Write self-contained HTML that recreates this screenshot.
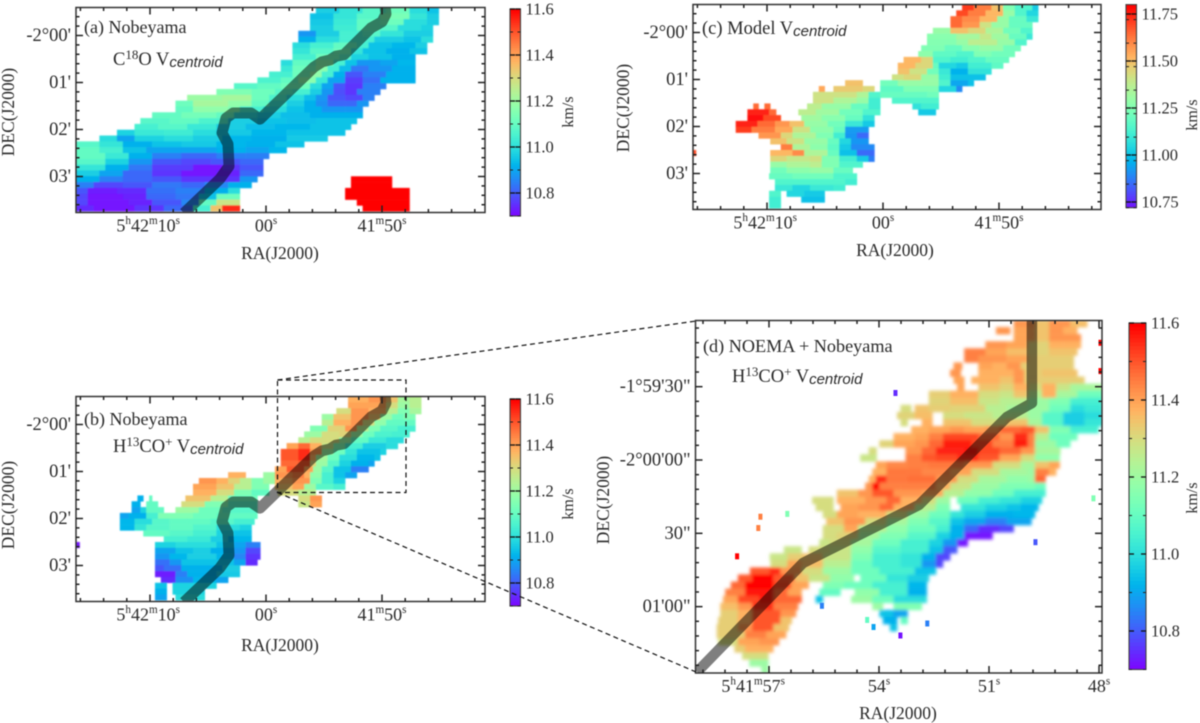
<!DOCTYPE html>
<html><head><meta charset="utf-8"><title>Velocity centroid maps</title>
<style>
html,body{margin:0;padding:0;background:#fff;width:1200px;height:723px;overflow:hidden}
svg{display:block;filter:blur(0.4px)}
text{font-family:"Liberation Serif",serif;fill:#2a2a2a}
.sans{font-family:"Liberation Sans",sans-serif;font-style:italic}
</style></head>
<body>
<svg id="fig" xmlns="http://www.w3.org/2000/svg" width="1200" height="723" viewBox="0 0 1200 723">
<defs>
<filter id="blurS" x="-5%" y="-5%" width="110%" height="110%"><feGaussianBlur stdDeviation="0.6"/></filter>
<filter id="blurL" x="-5%" y="-5%" width="110%" height="110%"><feGaussianBlur stdDeviation="1.6"/></filter>
</defs>
<g id="maps"></g>
<g fill="none" stroke="#111" stroke-width="1.2" stroke-dasharray="5 3.5">
<rect x="277.5" y="380" width="128.5" height="112.5"/>
<line x1="277.5" y1="380" x2="696" y2="321"/>
<line x1="277.5" y1="492.5" x2="696" y2="672"/>
</g>
<text x="84" y="33" font-size="18">(a) Nobeyama</text>
<text x="113" y="65" font-size="18.5">C<tspan font-size="13" dy="-6">18</tspan><tspan dy="6">O V</tspan><tspan class="sans" font-size="15" dy="2">centroid</tspan></text>
<text x="84" y="425" font-size="18">(b) Nobeyama</text>
<text x="113" y="452" font-size="18.5">H<tspan font-size="13" dy="-6">13</tspan><tspan dy="6">CO</tspan><tspan font-size="13" dy="-6">+</tspan><tspan dy="6"> V</tspan><tspan class="sans" font-size="15" dy="2">centroid</tspan></text>
<text x="702" y="34" font-size="18.5">(c) Model V<tspan class="sans" font-size="15" dy="2">centroid</tspan></text>
<text x="703" y="352" font-size="18.2">(d) NOEMA + Nobeyama</text>
<text x="732" y="382" font-size="18.5">H<tspan font-size="13" dy="-6">13</tspan><tspan dy="6">CO</tspan><tspan font-size="13" dy="-6">+</tspan><tspan dy="6"> V</tspan><tspan class="sans" font-size="15" dy="2">centroid</tspan></text>
</svg>
<script>
// ---------- Shared axis data ----------
const smallRaMajor = [10, 0, -10];
const smallRaLabels = [["5","h","42","m","10","s"], ["00","s"], ["41","m","50","s"]];
const smallDecMajor = [0, 1, 2, 3];
const smallDecLabels = ["-2°00'", "01'", "02'", "03'"];
const dRaMajor = [57, 54, 51, 48];
const dRaLabels = [["5","h","41","m","57","s"], ["54","s"], ["51","s"], ["48","s"]];
const dDecMajor = [-30, 0, 30, 60];
const dDecLabels = ["-1°59'30\"", "-2°00'00\"", "30\"", "01'00\""];
const cbarTicksABD = [11.6, 11.4, 11.2, 11.0, 10.8];
const cbarTicksC = [11.75, 11.5, 11.25, 11.0, 10.75];

// ---------- Filament spine (RA seconds from 5h42m00s, DEC arcmin below -2 deg) ----------
const spineRa = [7.07, 3.97, 3.19, 3.28, 3.79, 3.45, 2.84, 1.29, 0.52, -4.14, -4.83, -5.52, -6.03, -6.72, -9.05, -10.0, -10.34, -10.26];
const spineDec = [3.78, 3.05, 2.78, 2.31, 2.07, 1.76, 1.65, 1.65, 1.78, 0.67, 0.56, 0.52, 0.44, 0.41, -0.16, -0.29, -0.46, -0.63];
// Panel d spine (RA seconds of 5h41m, DEC arcsec below -2 deg)
const spineDRa = [58.96, 56.07, 52.91, 50.51, 49.83, 49.83];
const spineDDec = [86.7, 42.1, 18.4, -17.6, -23.3, -57.3];

// ---------- Map values: each row = col, km/s, col, km/s, ..., endCol (null = blank) ----------
const panelARows = [
[41,10.97,45,11.02,49,11.08,53,11.12,57,11.0,60,10.95,62],
[40,10.95,44,11.02,48,11.08,52,11.14,57,11.02,60,10.97,62],
[40,10.96,44,11.03,48,11.1,52,11.12,56,11.0,60,10.97,62],
[40,10.97,44,11.04,48,11.1,52,11.08,55,11.0,59,10.98,61],
[38,10.88,41,10.97,45,11.05,49,11.08,52,11.02,56,10.97,61],
[38,10.92,41,11.0,45,11.05,49,11.05,51,10.97,56,10.95,59,11.0,61],
[37,11.0,40,11.05,44,11.1,48,11.05,50,10.95,54,10.93,58,10.97,60],
[37,11.02,40,11.08,44,11.12,47,11.02,49,10.95,53,10.92,57,10.95,60],
[37,11.05,41,11.12,45,11.08,47,10.98,50,10.95,54,10.92,58],
[35,11.0,37,11.1,41,11.16,44,11.05,46,10.95,48,10.88,52,10.9,55,10.93,58],
[35,11.03,37,11.12,41,11.17,43,11.05,45,10.94,47,10.84,50,10.88,54,10.92,58],
[33,11.05,37,11.12,40,11.18,42,11.05,44,10.92,46,10.8,49,10.85,53,10.92,58],
[31,11.06,35,11.1,38,11.17,41,11.03,43,10.9,46,10.77,49,10.83,52,10.92,58],
[27,11.08,31,11.1,35,11.12,38,11.12,40,11.0,42,10.9,44,10.8,46,10.76,49,10.85,53],
[24,11.15,30,11.12,34,11.08,37,11.05,40,10.97,42,10.88,44,10.79,46,10.76,48,10.85,52],
[19,11.2,25,11.22,30,11.12,33,11.06,36,11.0,39,10.94,41,10.88,43,10.8,46,10.78,49,10.85,51],
[17,11.12,20,11.22,26,11.18,30,11.1,33,11.03,36,10.97,39,10.92,41,10.87,43,10.82,46,10.82,48,10.88,50],
[17,11.1,20,11.18,26,11.15,28,11.05,32,11.0,36,10.95,39,10.92,42,10.88,46,10.88,49],
[13,11.1,18,11.13,24,11.1,27,11.0,31,10.97,35,10.94,40,10.92,44,10.92,49],
[11,11.08,16,11.1,21,11.06,26,10.97,31,10.95,36,10.94,41,10.95,48],
[10,11.05,14,11.08,19,11.03,24,10.97,29,10.94,34,10.93,40,10.95,47],
[7,10.98,10,11.03,15,11.04,20,11.0,24,10.96,30,10.93,36,10.95,46],
[4,11.0,7,10.9,10,10.98,15,11.0,20,10.97,25,10.93,30,10.92,36,10.96,43],
[0,11.08,4,11.02,8,10.92,13,10.95,18,10.96,24,10.93,29,10.92,34,10.95,39],
[0,11.1,4,11.05,8,10.95,12,10.9,18,10.9,24,10.92,29,10.9,33,10.93,36],
[0,11.1,5,11.03,9,10.92,13,10.85,18,10.82,24,10.85,29,10.85,33],
[0,11.08,5,10.98,9,10.88,13,10.8,18,10.78,23,10.8,28,10.82,32],
[0,11.02,5,10.92,9,10.84,13,10.77,20,10.72,25,10.76,28,10.8,32],
[0,10.97,4,10.9,8,10.82,13,10.76,18,10.72,24,10.74,28,10.82,32],
[0,10.92,4,10.85,8,10.82,13,10.8,18,10.76,24,10.76,28,10.88,31,null,47,11.6,54],
[0,10.85,3,10.78,8,10.8,13,10.84,18,10.82,22,10.86,26,10.92,30,null,47,11.6,54],
[0,10.8,2,10.73,7,10.75,12,10.83,17,10.85,22,10.92,26,11.0,28,null,46,11.6,57],
[0,10.78,2,10.72,8,10.74,12,10.82,17,10.84,21,10.95,24,11.12,28,null,46,11.6,57],
[0,10.78,2,10.72,9,10.74,13,10.8,18,10.86,21,11.1,24,11.28,28,null,48,11.6,57],
[0,10.75,3,10.72,10,10.76,15,10.82,20,11.05,23,11.35,25,11.55,28,null,49,11.6,57]
];
const panelBRows = [
[46.5,11.38,50,11.42,53,11.35,55,11.22,57,11.25,59],
[46.5,11.4,50,11.4,53,11.3,55,11.2,57,11.25,59],
[44.5,11.3,47,11.42,50,11.38,53,11.25,55,11.15,57,11.22,59],
[42,11.2,44,11.35,47,11.42,50,11.35,52,11.2,54,11.12,56,11.15,58],
[42,11.25,44,11.38,47,11.42,49,11.3,51,11.18,53,11.1,56,11.1,58],
[40,11.15,43,11.32,46,11.42,48,11.25,50,11.15,52,11.08,55,11.05,58],
[39,11.2,42,11.3,45,11.32,47,11.2,49,11.12,51,11.06,54,11.05,57],
[38,11.25,40,11.3,43,11.3,45,11.2,47,11.1,50,11.03,53,11.0,56],
[36,11.4,38,11.48,40,11.38,42,11.28,44,11.15,46,11.05,49,10.97,53,11.0,55],
[35,11.5,38,11.55,40,11.42,42,11.2,44,11.12,46,11.02,48,10.95,52,10.98,53],
[35,11.5,38,11.55,40,11.38,41,11.22,43,11.12,45,11.0,48,10.93,51,10.95,52],
[35,11.48,38,11.5,40,11.32,41,11.2,43,11.08,45,10.98,47,10.92,50,10.9,51],
[34,11.4,36,11.5,39,11.4,40.5,11.2,42,11.08,44,10.95,47,10.85,50],
[26,11.38,29,null,32,11.2,34,11.42,37,11.45,39,11.38,40,11.18,42,11.05,44,10.95,46,10.9,48],
[21,11.42,24,11.38,26,11.32,28,11.25,30,11.15,32,11.2,34,11.38,37,11.42,40,11.15,42,11.05,44,10.98,46],
[20,11.4,24,11.35,27,11.25,30,11.15,33,null,34,11.35,37,11.4,39,11.2,41,11.08,44,11.05,46],
[20,11.38,24,11.3,27,11.15,30,11.1,33,null,34.5,11.3,38,11.25,41],
[10.5,10.92,11.5,null,12.5,11.1,13,null,18.7,11.35,23,11.25,26,11.12,31,null,38,11.3,40,11.42,42],
[9.5,10.92,11,null,12,11.1,14,null,18,11.3,22,11.15,26,11.08,31,null,38,11.28,40,11.4,42],
[9.5,10.9,11,10.98,12,11.1,15,null,17,11.2,21,11.12,25,11.08,31],
[7.5,10.9,9,10.92,12,11.05,14,11.15,16,11.15,20,11.12,24,11.1,28,11.1,31],
[7.5,10.93,10,11.0,13,11.08,16,11.1,19,11.1,23,11.08,27,11.05,30.5],
[7.5,10.93,10,11.02,12,11.08,16,11.1,20,11.07,24,11.0,28,10.98,30],
[11.5,11.1,16,11.08,20,11.05,24,10.98,27,10.95,30],
[15,11.05,19,11.03,23,10.97,26,10.93,30],
[0,10.72,0.6,null,13.5,10.98,17,11.0,20,11.0,24,10.95,27,10.9,29,10.85,31.5],
[13.5,10.9,17,10.95,20,10.97,23,10.92,27,10.88,29,10.78,31.5],
[13.5,10.88,16,10.93,19,10.97,24,10.93,27,10.86,29,10.76,31.5],
[13.5,10.83,16,10.88,18,10.95,24,10.95,27,10.9,29,10.75,31],
[13.5,10.8,15,10.83,18,10.92,25,10.97,28],
[13.5,10.73,17,10.85,19,10.92,24,10.96,28],
[14.5,10.75,17,10.87,20,10.93,24,10.9,26],
[13.5,10.95,15.5,null,16.5,10.98,24],
[13.5,10.92,15.5,null,16.5,10.98,22],
[13.5,10.9,15.5,null,17,11.0,22]
];
const panelCRows = [
[46,11.72,48,11.62,51,11.5,53,11.25,55,11.15,58,11.02,59],
[45,11.7,47,11.62,50,11.52,53,11.3,55,11.15,57,11.05,59],
[44,11.65,46,11.6,49,11.52,52,11.3,54,11.2,57,11.1,59],
[44,11.65,46,11.58,49,11.42,51,11.3,54,11.2,58],
[41,11.3,44,11.5,47,11.45,50,11.35,53,11.22,56,11.15,58],
[40,11.27,45,11.33,49,11.4,51,11.32,54,11.2,57,11.1,58],
[40,11.26,45,11.3,47,11.38,52,11.3,55,11.15,57],
[39,11.25,43,11.2,46,11.27,49,11.3,53,11.22,56],
[38.5,11.28,41,11.18,45,11.15,48,11.25,51,11.22,55],
[36,11.52,39,11.45,41,11.15,44,11.12,47,11.15,50,11.2,54],
[35,11.52,38,11.45,41,11.2,42,11.05,45,11.02,47,11.12,51,11.18,53],
[35,11.5,37,11.42,40,11.22,42,11.1,44,10.97,47,11.08,51],
[34,11.42,36,11.45,39,11.3,42,11.12,44,11.0,47,11.0,50],
[26,11.5,29,null,32,11.22,35,11.3,39,11.3,42,11.15,44,10.95,47,11.0,48],
[21.5,11.55,22.5,null,24,11.48,29,11.45,31,null,32,11.18,36,11.25,41,11.25,42,11.05,45,10.9,46],
[20.5,11.42,24,11.42,28,11.35,30,11.15,32,11.2,36,11.2,40,11.22,42],
[20.5,11.42,24,11.35,28,11.3,30,11.12,32,null,34,11.15,38,11.15,42],
[10.3,11.65,11.2,null,12.2,11.65,13.2,null,19.5,11.38,22,11.3,27,11.2,30,11.12,32,null,37.5,11.08,39,11.12,42],
[9.3,11.75,13,11.65,14.2,null,18,11.38,21,11.32,25,11.22,29,11.15,32,null,38.5,11.02,41.5],
[9.3,11.78,12,11.7,15,null,18.5,11.32,22,11.27,26,11.2,29,11.08,31],
[7.3,11.75,11,11.65,14,11.58,16.5,11.5,19,11.3,23,11.22,26,11.1,29,11.02,31],
[7.3,11.72,10,11.62,14,11.55,17,11.42,20,11.28,24,11.2,26,10.93,30],
[11.2,11.58,15,11.45,17,11.35,21,11.25,24,11.12,26,10.92,28,10.85,30],
[13.2,11.5,16,11.42,19,11.3,23,11.2,25,11.05,27,10.92,30],
[15,11.62,17,11.35,20,11.28,23,11.18,25,11.02,27,10.9,31],
[0,11.7,0.5,null,13.2,11.52,17,11.6,19,11.35,23,11.2,25,11.0,28,10.85,31],
[13.2,11.45,16,11.4,20,11.42,22,11.25,25,11.12,28,11.02,30,10.88,31],
[13.2,11.3,16,11.35,20,11.38,22,11.25,25,11.15,29],
[13.2,11.22,16,11.28,20,11.3,24,11.2,27.3],
[13,11.2,17,11.22,21,11.22,24,11.15,28],
[14,11.15,18,11.15,22,11.15,26,11.12,28],
[14,11.1,17,11.05,20,11.1,24,11.12,26],
[13,11.15,15,null,16,11.05,19,11.02,22.5],
[13,11.12,15,null,18.5,11.0,22.5],
[13,11.12,15]
];
const panelDRows = [
[45,11.42,48,11.35,50,11.42,53,11.36,55.4],
[42.5,11.42,44.5,null,45,11.4,48,11.35,50,11.42,52,11.38,54],
[45,11.4,48,11.35,50,11.42,53,11.42,54.5],
[41,11.42,44,11.4,47,11.32,50,11.38,52,11.38,54.5],
[38,11.45,41,11.4,44,11.36,47,11.32,50,11.35,54],
[38,11.45,40,11.42,44,11.4,47,11.33,50,11.33,53.5],
[36.5,11.42,37.7,null,40,11.4,42,11.38,44,11.42,46,11.33,50,11.33,53.5],
[36,11.42,37.5,null,40,11.38,43,11.38,45,11.42,46.5,11.33,49,11.35,54],
[36.5,11.4,38,null,39,11.38,43,11.35,45,11.42,46.5,11.33,49,11.33,55],
[37,11.4,38,null,40,11.35,43,11.32,45,11.38,47,11.3,49,11.38,51,11.28,53,11.22,57.6],
[33,11.33,36,11.38,40,11.3,43,11.28,45,11.35,47,11.25,49,11.38,51,11.22,54,11.12,57.6],
[33,11.32,36,11.36,40,11.28,43,11.25,47,11.2,50,11.15,53,11.05,55,11.05,57.6],
[29,11.3,30.5,null,31,11.35,33,11.33,36,11.32,41,11.25,44,11.22,47,11.2,50,11.12,53,11.0,55,11.03,57.6],
[28.5,11.32,31,11.36,33.5,null,35,11.3,38,11.28,42,11.25,45,11.25,47,11.2,49,11.08,52,10.97,55,11.0,57.6],
[29,11.3,30,null,32,11.38,33.5,null,35,11.35,39,11.3,42,11.3,44,11.35,47,11.22,49,11.08,52,10.97,55,11.02,57.6],
[30.5,11.38,33,11.4,36,11.42,38,11.4,41,11.42,43,11.48,46,11.5,48,11.35,50,11.15,53,11.05,57],
[28,11.38,31,11.4,33,11.45,35,11.52,40,11.48,43,11.42,45,11.55,47,11.45,48,11.25,50,11.12,54],
[26,11.32,28,11.4,31,11.42,33,11.48,35,11.57,39,11.52,42,11.45,45,11.57,47,11.45,48,11.2,51,11.12,53],
[24.5,11.3,25.6,null,29.7,11.42,32,11.48,34,11.56,38,11.58,40,11.52,43,11.48,46,11.42,48,11.22,51.6],
[23.3,11.28,25.6,null,29.7,11.45,32,11.5,34,11.52,37,11.55,40,11.5,43,11.4,46,11.3,48,11.18,51.5],
[25.5,11.4,27,11.44,30,11.45,33,11.46,36,11.46,38,11.42,42,11.3,46,11.22,48,11.35,50,11.4,51.5],
[25,11.38,27,11.46,30,11.46,32,11.44,36,11.4,39,11.3,43,11.22,47,11.2,48,11.45,50,11.38,51],
[24.5,11.38,25.5,11.55,27,11.46,30,11.47,34,11.42,37,11.3,40,11.22,44,11.18,47,11.2,48,11.48,49.5],
[24,11.42,25,11.6,26,11.45,29,11.45,34,11.38,36,11.28,39,11.2,43,11.15,48,11.12,49.5],
[20,11.35,23,11.42,25,11.5,28,11.42,32,11.4,35,11.25,38,11.18,42,11.12,45,11.05,49.5],
[16.5,11.3,19.5,null,20,11.38,24,11.42,27,11.48,29,11.38,32,11.3,34,11.2,36,null,37,11.12,40,11.05,43,11.02,46,10.98,49],
[17,11.3,19.5,null,20.5,11.4,23,11.42,26,11.48,28,11.38,31,11.25,34,11.15,36,null,37.5,11.02,41,10.98,44,10.95,46,10.93,48.5],
[18,11.3,20,11.4,23,11.38,27,11.3,30,11.2,33,11.12,36,11.02,38,10.97,41,10.92,45,10.93,48],
[18.5,11.35,21,11.42,24,11.3,27,11.22,30,11.15,33,11.08,36,10.95,38,10.9,41,10.85,44,10.9,47.5],
[18,11.3,21,11.4,23,11.25,27,11.18,30,11.12,34,11.05,36,10.92,38,10.82,40,10.75,43,10.78,45],
[18,11.3,20,11.32,23,11.22,26,11.15,30,11.08,34,10.98,36,10.92,38,10.72,42],
[17.5,11.28,19,11.3,22,11.22,25,11.12,29,11.05,33,10.98,35,10.88,37,10.72,38.5],
[12.5,11.28,15,null,16,11.3,19,11.28,22,11.18,25,11.08,29,11.05,33,10.95,35,10.8,37],
[10.5,11.28,13,11.33,15,11.35,18,11.28,22,11.15,25,11.05,29,11.02,32,10.92,34,10.78,36],
[10.6,11.3,13,11.4,15,11.36,18,11.25,22,11.12,25,11.05,29,11.02,32,10.88,34,10.78,35],
[7.7,11.5,10.5,11.55,12,11.42,15,11.3,18,11.2,22,11.12,26,11.05,31,10.95,34],
[6,11.5,8,11.6,11,11.5,14,11.35,16,11.28,19,11.18,22.4,null,23.3,11.12,27,11.02,30,10.97,33],
[5,11.48,7,11.6,11,11.52,13.5,11.4,16,null,18,11.15,21,11.12,25,11.05,30,10.93,32.7],
[4.2,11.45,7,11.58,11,11.48,13,11.4,15,null,17.5,11.1,20.5,null,22.5,11.18,26,11.05,30,10.92,32.7],
[3.9,11.4,6,11.52,9,11.58,11,11.48,15,null,17,10.95,18,null,22,11.2,25,11.12,28,11.0,32.7],
[3.5,11.36,6,11.42,8,11.55,11,11.45,14.5,null,25,11.2,26.5,null,28,11.15,32],
[3.5,11.33,6,11.38,8,11.5,12,11.42,14.2,null,26,10.95,28,10.9,30],
[3.2,11.33,6,11.38,8,11.5,12,11.35,13.6,null,26.5,10.92,28.5,null,29,11.1,30],
[3,11.33,6,11.42,8,11.5,11,11.35,13.2,null,27.5,10.95,28.5],
[3,11.33,7,11.45,10,11.4,12.8],
[3.2,11.3,6,11.4,9,11.42,11.8],
[5.5,11.33,7,11.38,11],
[6.6,11.3,8,11.3,10.3],
[7.6,11.2,10.3],
[9.3,11.2,10.3]
];
const speckCol = [8.9, 8.6, 5.6, 12.7, 28, 47.8, 56, 57, 57, 32.5, 28.7, 24, 24.9, 17.6];
const speckRow = [27.4, 29, 33, 27, 9.9, 31, 24.8, 2.8, 6.8, 42.5, 44.2, 42, 43, 40];
const speckValue = [11.45, 11.45, 11.6, 11.15, 10.75, 10.8, 11.15, 11.6, 11.6, 10.85, 10.72, 11.1, 10.9, 10.85];

// ---------- Rendering ----------
const NS = "http://www.w3.org/2000/svg";
const root = document.getElementById("maps");
function mk(tag, parent, attrs) {
  const e = document.createElementNS(NS, tag);
  for (const k in attrs) e.setAttribute(k, attrs[k]);
  parent.appendChild(e);
  return e;
}
function rainbow(t) {
  t = Math.max(0, Math.min(1, t));
  const r = Math.min(1, Math.abs(2 * t - 0.5));
  const g = Math.sin(Math.PI * t);
  const b = Math.cos(Math.PI * t / 2);
  return "rgb(" + Math.round(r * 255) + "," + Math.round(g * 255) + "," + Math.round(b * 255) + ")";
}
function superLabel(t, parts, fs) {
  parts.forEach(function (p, i) {
    const isSup = /^[hms]$/.test(p);
    const ts = mk("tspan", t, {});
    ts.textContent = p;
    if (isSup) { ts.setAttribute("font-size", fs * 0.62); ts.setAttribute("dy", -fs * 0.42); }
    else { ts.setAttribute("dy", i === 0 ? 0 : fs * 0.42); }
  });
}
function drawMap(g, rows, P) {
  const gridX = c => P.left + P.gridX0 + c * P.cellW;
  const gridY = r => P.gridTop + r * P.cellH;
  const color = v => rainbow((v - P.vMin) / (P.vMax - P.vMin));
  const field = mk("g", g, { filter: "url(#" + P.blur + ")" });
  
  
  rows.forEach(function (row, r) {
    for (let i = 0; i + 2 < row.length; i += 2) {
      const v = row[i + 1];
      if (v === null) continue;
      const cell = mk("rect", field, {
        x: gridX(row[i]), y: gridY(r),
        width: gridX(row[i + 2]) - gridX(row[i]) + 0.3,
        height: P.cellH + 0.3, fill: color(v)
      });
      
      
    }
  });
  return { gridX, gridY, color };
}
function drawPanel(P) {
  const g = mk("g", root, {});
  
  
  const clipId = P.id + "-clip";
  const cp = mk("clipPath", g, { id: clipId });
  mk("rect", cp, { x: P.left, y: P.top, width: P.right - P.left, height: P.bottom - P.top });
  const body = mk("g", g, { "clip-path": "url(#" + clipId + ")" });
  const map = drawMap(body, P.rows, P);
  if (P.specks) {
    P.specks.col.forEach(function (c, i) {
      const s = mk("rect", body, { x: map.gridX(c), y: map.gridY(P.specks.row[i]), width: 4, height: 6, fill: map.color(P.specks.value[i]) });
      
      
    });
  }
  // axis functions
  const raX = ra => P.raRef + (P.raOrigin - ra) * P.raScale;
  const decY = d => P.decRef + d * P.decScale;
  if (P.spine) {
    const pts = P.spine.ra.map((ra, i) => raX(ra) + "," + decY(P.spine.dec[i])).join(" ");
    const line = mk("polyline", body, { points: pts, fill: "none", stroke: "#000", "stroke-opacity": 0.5, "stroke-width": P.spineW, "stroke-linejoin": "round" });
    
    
  }
  // frame
  const frame = mk("rect", g, { x: P.left, y: P.top, width: P.right - P.left, height: P.bottom - P.top, fill: "none", stroke: "#333", "stroke-width": 1.5 });
  
  
  // ticks
  const ticks = mk("g", g, { stroke: "#222", "stroke-width": 1.5 });
  
  
  const n = Math.round((P.raMaxVal - P.raMinVal) / P.raMinor);
  for (let i = 0; i <= n; i++) {
    const ra = P.raMaxVal - i * P.raMinor;
    const x = raX(ra);
    if (x < P.left + 1 || x > P.right - 1) continue;
    const major = P.raMajor.some(m => Math.abs(m - ra) < 1e-6);
    const l = major ? 7 : 3.5;
    mk("line", ticks, { x1: x, x2: x, y1: P.bottom, y2: P.bottom - l });
    mk("line", ticks, { x1: x, x2: x, y1: P.top, y2: P.top + l });
  }
  const m = Math.round((P.decMaxVal - P.decMinVal) / P.decMinor);
  for (let i = 0; i <= m; i++) {
    const d = P.decMinVal + i * P.decMinor;
    const y = decY(d);
    if (y < P.top + 1 || y > P.bottom - 1) continue;
    const major = P.decMajor.some(v => Math.abs(v - d) < 1e-6);
    const l = major ? 7 : 3.5;
    mk("line", ticks, { x1: P.left, x2: P.left + l, y1: y, y2: y });
    mk("line", ticks, { x1: P.right, x2: P.right - l, y1: y, y2: y });
  }
  // tick labels
  P.raMajor.forEach(function (ra, i) {
    const t = mk("text", g, { x: raX(ra) + P.raLabelShift[i], y: P.bottom + 19, "font-size": 18, "text-anchor": P.raAnchor[i] });
    
    
    superLabel(t, P.raLabels[i], 18);
  });
  P.decMajor.forEach(function (d, i) {
    const t = mk("text", g, { x: P.left - 5, y: decY(d) + 5.5, "font-size": 18.5, "text-anchor": "end" });
    
    
    t.textContent = P.decLabels[i];
  });
  // axis titles
  const ra = mk("text", g, { x: P.raTitle[0], y: P.raTitle[1], "font-size": 17.5, "text-anchor": "middle" });
  
  
  ra.textContent = "RA(J2000)";
  const de = mk("text", g, { x: 0, y: 0, "font-size": 17.5, "text-anchor": "middle", transform: "translate(" + P.decTitle[0] + "," + P.decTitle[1] + ") rotate(-90)" });
  
  
  de.textContent = "DEC(J2000)";
  // colorbar
  const C = P.cbar;
  const cbY = v => C.y11 + (11 - v) * C.scale;
  const cb = mk("g", g, {});
  
  
  const steps = 90;
  const yTop = cbY(C.vTop), yBot = cbY(C.vBottom);
  for (let i = 0; i < steps; i++) {
    const v0 = C.vTop - (C.vTop - C.vBottom) * i / steps;
    const seg = mk("rect", cb, { x: C.x, y: yTop + (yBot - yTop) * i / steps, width: C.w, height: (yBot - yTop) / steps + 0.5, fill: rainbow((v0 - P.vMin) / (P.vMax - P.vMin)) });
    
    
  }
  mk("rect", cb, { x: C.x, y: yTop, width: C.w, height: yBot - yTop, fill: "none", stroke: "#444", "stroke-width": 1.1 });
  for (let v = C.vBottom; v <= C.vTop + 1e-6; v += C.minor) {
    const y = cbY(v);
    mk("line", cb, { x1: C.x, x2: C.x + 3, y1: y, y2: y, stroke: "#222", "stroke-width": 1 });
    mk("line", cb, { x1: C.x + C.w, x2: C.x + C.w - 3, y1: y, y2: y, stroke: "#222", "stroke-width": 1 });
  }
  C.ticks.forEach(function (v) {
    const y = cbY(v);
    mk("line", cb, { x1: C.x, x2: C.x + 5, y1: y, y2: y, stroke: "#111", "stroke-width": 1.3 });
    mk("line", cb, { x1: C.x + C.w, x2: C.x + C.w - 5, y1: y, y2: y, stroke: "#111", "stroke-width": 1.3 });
    const t = mk("text", cb, { x: C.x + C.w + 5, y: y + 5.5, "font-size": 16.5 });
    
    
    t.textContent = C.dec2 ? v.toFixed(2) : v.toFixed(1);
  });
  const unit = mk("text", cb, { x: 0, y: 0, "font-size": 16, "text-anchor": "middle", transform: "translate(" + C.unit[0] + "," + C.unit[1] + ") rotate(-90)" });
  
  
  unit.textContent = "km/s";
}
const smallAxes = { raOrigin: 0, raScale: 11.6, raMajor: smallRaMajor, raLabels: smallRaLabels,
  raLabelShift: [30, 0, 0], raAnchor: ["end", "middle", "middle"], raMaxVal: 20, raMinVal: -20, raMinor: 2,
  decScale: 47, decMajor: smallDecMajor, decLabels: smallDecLabels, decMinVal: -1, decMaxVal: 4, decMinor: 0.2,
  cellW: 5.85, cellH: 5.82, gridX0: 0, spineW: 11, blur: "blurS" };
drawPanel(Object.assign({}, smallAxes, { id: "panel-a", rows: panelARows, left: 76, right: 485, top: 7.5, bottom: 212.5, gridTop: 7.5,
  raRef: 266, decRef: 35.5, vMin: 10.7, vMax: 11.6, spine: { ra: spineRa, dec: spineDec },
  raTitle: [280, 259], decTitle: [14, 112],
  cbar: { x: 510, w: 10.5, y11: 147, scale: 230, vTop: 11.6, vBottom: 10.7, minor: 0.1, ticks: cbarTicksABD, unit: [573, 112] } }));
drawPanel(Object.assign({}, smallAxes, { id: "panel-c", rows: panelCRows, left: 693, right: 1101, top: 4.5, bottom: 209.5, gridTop: 4.5,
  raRef: 883, decRef: 32.5, vMin: 10.7, vMax: 11.8,
  raTitle: [895, 256], decTitle: [629, 108],
  cbar: { x: 1126, w: 10.5, y11: 155, scale: 188, vTop: 11.8, vBottom: 10.72, minor: 0.125, ticks: cbarTicksC, dec2: true, unit: [1197, 115] } }));
drawPanel(Object.assign({}, smallAxes, { id: "panel-b", rows: panelBRows, left: 76, right: 485, top: 396.5, bottom: 601.5, gridTop: 396.5,
  raRef: 266, decRef: 424.5, vMin: 10.7, vMax: 11.6, spine: { ra: spineRa, dec: spineDec },
  raTitle: [280, 651], decTitle: [14, 505],
  cbar: { x: 510, w: 10.5, y11: 537, scale: 230, vTop: 11.6, vBottom: 10.7, minor: 0.1, ticks: cbarTicksABD, unit: [573, 504] } }));
drawPanel({ id: "panel-d", rows: panelDRows, specks: { col: speckCol, row: speckRow, value: speckValue },
  left: 695.5, right: 1102, top: 320.5, bottom: 673, gridTop: 320, cellW: 7.07, cellH: 7.07, gridX0: 0, blur: "blurL",
  raRef: 769, raOrigin: 57, raScale: 36.67, raMajor: dRaMajor, raLabels: dRaLabels,
  raLabelShift: [16, 0, 0, 0], raAnchor: ["end", "middle", "middle", "middle"], raMaxVal: 60, raMinVal: 47.4, raMinor: 0.6,
  decRef: 460, decScale: 2.444, decMajor: dDecMajor, decLabels: dDecLabels, decMinVal: -60, decMaxVal: 90, decMinor: 6,
  vMin: 10.7, vMax: 11.6, spine: { ra: spineDRa, dec: spineDDec }, spineW: 10.5,
  raTitle: [898, 719], decTitle: [609, 500],
  cbar: { x: 1129, w: 17, y11: 554, scale: 385, vTop: 11.6, vBottom: 10.7, minor: 0.1, ticks: cbarTicksABD, unit: [1197, 498] } });
</script>
</body></html>
